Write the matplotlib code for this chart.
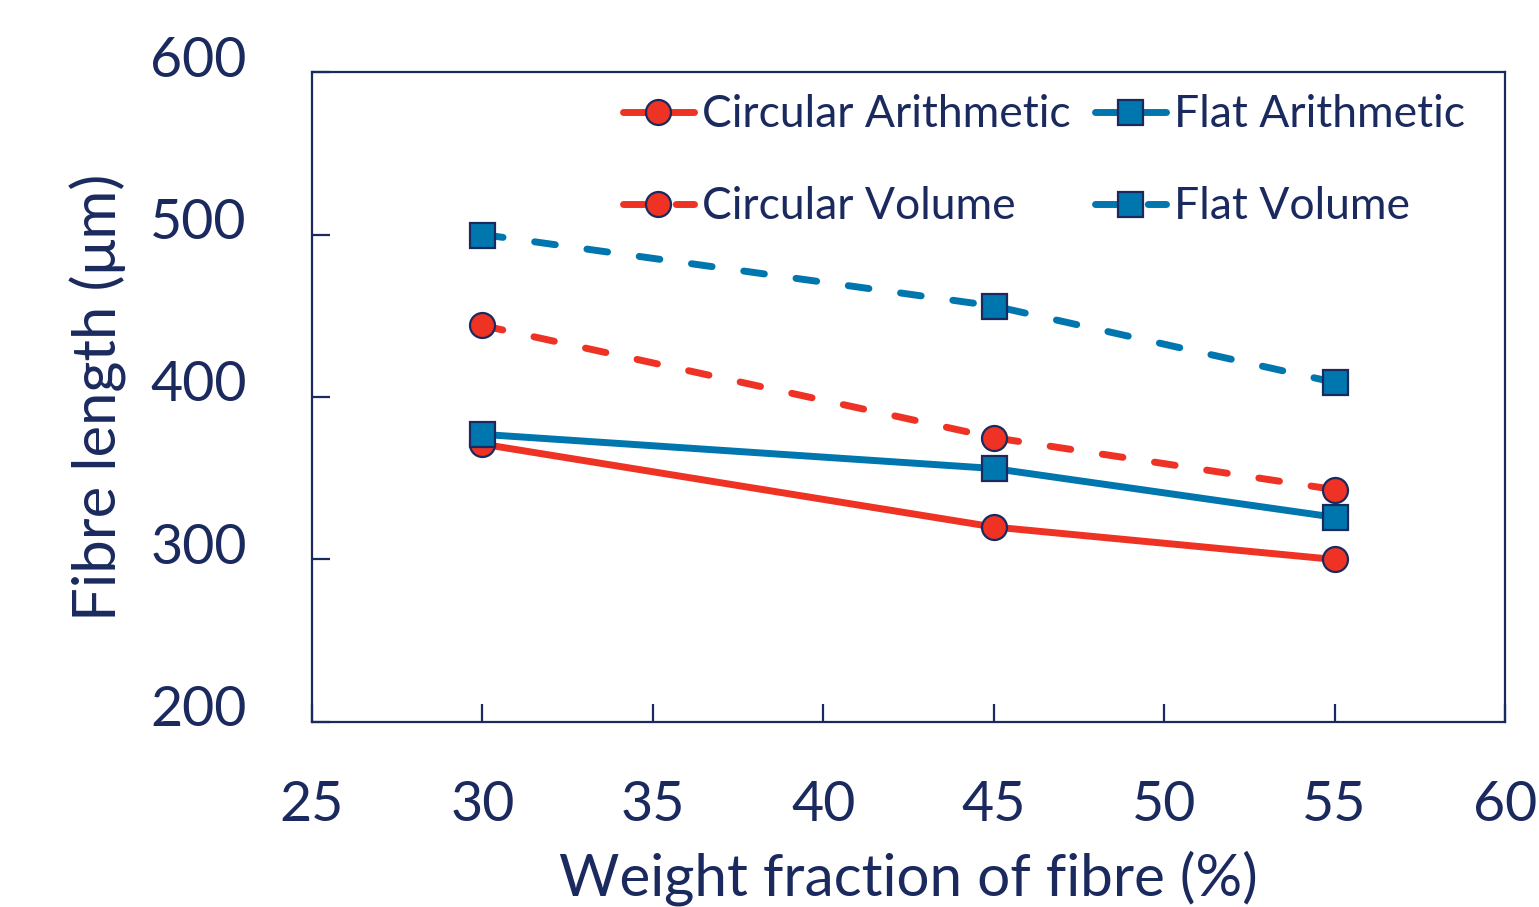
import matplotlib
matplotlib.use("Agg")
import matplotlib.pyplot as plt
from matplotlib.transforms import ScaledTranslation

plt.rcParams['font.family'] = ['Lato', 'DejaVu Sans']

# data
fraction = [30, 45, 55]
circ_arith = [371, 320, 300]
circ_vol = [444, 375, 343]
flat_arith = [377, 356, 326]
flat_vol = [500, 456, 409]

navy = '#1B2A5E'
red = '#EE3224'
blue = '#0076AE'

fig = plt.figure(figsize=(15.39, 9.07), dpi=100)
ax = fig.add_axes([0.2027, 0.204, 0.7752, 0.7166])

common = dict(linewidth=5.0, markersize=18, markeredgecolor=navy,
              markeredgewidth=1.6, solid_capstyle='round', dash_capstyle='round')
dash = (3.0, 4.6)

ax.plot(fraction, circ_arith, color=red, marker='o', label='Circular Arithmetic', **common)
ax.plot(fraction, circ_vol, color=red, marker='o', linestyle=(0, dash), label='Circular Volume', **common)
ax.plot(fraction, flat_arith, color=blue, marker='s', label='Flat Arithmetic', **common)
ax.plot(fraction, flat_vol, color=blue, marker='s', linestyle=(0, dash), label='Flat Volume', **common)

ax.set_xlim(25, 60)
ax.set_ylim(200, 600)
ax.set_xticks([25, 30, 35, 40, 45, 50, 55, 60])
ax.set_yticks([200, 300, 400, 500, 600])

for s in ax.spines.values():
    s.set_color(navy)
    s.set_linewidth(1.6)
ax.tick_params(direction='in', length=13, width=1.6, color=navy,
               labelcolor=navy, labelsize=40)
ax.tick_params(axis='x', pad=42)
ax.tick_params(axis='y', pad=47)

# y tick labels sit a little above their ticks in the original
shift = ScaledTranslation(0, 0.16, fig.dpi_scale_trans)
for lab in ax.get_yticklabels():
    lab.set_transform(lab.get_transform() + shift)

ax.set_xlabel('Weight fraction of fibre (%)', fontsize=42, color=navy, labelpad=14)
ax.set_ylabel('Fibre length (μm)', fontsize=43, color=navy, labelpad=17)

ax.legend(ncol=2, loc='upper right', bbox_to_anchor=(0.985, 1.0), frameon=False,
          fontsize=32, handlelength=1.6, handletextpad=0.18, columnspacing=0.55,
          labelspacing=1.15, labelcolor=navy, borderaxespad=0.1)

fig.savefig('out.png', dpi=100)
